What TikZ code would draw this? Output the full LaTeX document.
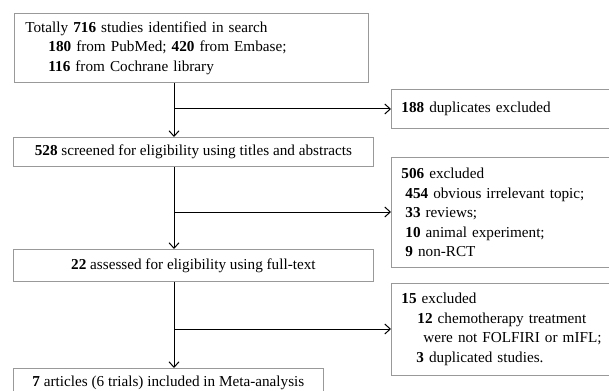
\documentclass[tikz,border=0pt]{standalone}
\usepackage{fontspec}
\setmainfont{Liberation Serif}
\usepackage{tikz}
\usetikzlibrary{arrows.meta, positioning}

\begin{document}
\begin{tikzpicture}[
  x=1pt, y=-1pt,
  font=\fontsize{15.2}{19.5}\selectfont,
  box/.style     = {rectangle, draw=black!40, line width=0.8pt,
                    anchor=north west, inner ysep=0pt},
  mainbox/.style = {box, align=center, inner xsep=0pt},
  sidebox/.style = {box, align=left, inner xsep=10pt, text width=201pt},
  flow/.style    = {-{Straight Barb[length=5.5pt,width=10pt]}, line width=1pt, black}
]
\useasboundingbox (0,0) rectangle (609,390);

% ---------- main column ----------
\node[box, align=left, inner xsep=11pt, text width=332pt, minimum height=69pt]
  (search) at (14,13)
  {Totally \textbf{716} studies identified in search\\
   \hspace*{23pt}\textbf{180} from PubMed; \textbf{420} from Embase;\\
   \hspace*{23pt}\textbf{116} from Cochrane library};
\node[mainbox, minimum width=360pt, minimum height=29pt] (screen) at (13,137)
  {\textbf{528} screened for eligibility using titles and abstracts};
\node[mainbox, minimum width=360pt, minimum height=32pt] (assess) at (13,249)
  {\textbf{22} assessed for eligibility using full-text};
\node[mainbox, minimum width=310pt, minimum height=29pt] (incl) at (13,368)
  {\textbf{7} articles (6 trials) included in Meta-analysis};

% ---------- exclusions ----------
\node[sidebox, minimum height=39pt] (dup) at (391,89)
  {\textbf{188} duplicates excluded};
\node[sidebox, minimum height=110pt] (excl1) at (391,157)
  {\textbf{506} excluded\\
   \hspace*{4pt}\textbf{454} obvious irrelevant topic;\\
   \hspace*{4pt}\textbf{33} reviews;\\
   \hspace*{4pt}\textbf{10} animal experiment;\\
   \hspace*{4pt}\textbf{9} non-RCT};
\node[sidebox, minimum height=92pt] (excl2) at (391,283)
  {\textbf{15} excluded\\
   \hspace*{16pt}\textbf{12} chemotherapy treatment\\
   \hspace*{22pt}were not FOLFIRI or mIFL;\\
   \hspace*{15pt}\textbf{3} duplicated studies.};

% ---------- branch points ----------
\coordinate (b1) at (174,109);
\coordinate (b2) at (174,212);
\coordinate (b3) at (174,329);

% ---------- connectors ----------
\draw[flow] (search.south -| b1) -- (screen.north -| b1);
\draw[flow] (screen.south -| b2) -- (assess.north -| b2);
\draw[flow] (assess.south -| b3) -- (incl.north -| b3);

\foreach \b/\e in {b1/dup, b2/excl1, b3/excl2}
  \draw[flow] (\b) -- (\b -| \e.west);

\end{tikzpicture}
\end{document}
